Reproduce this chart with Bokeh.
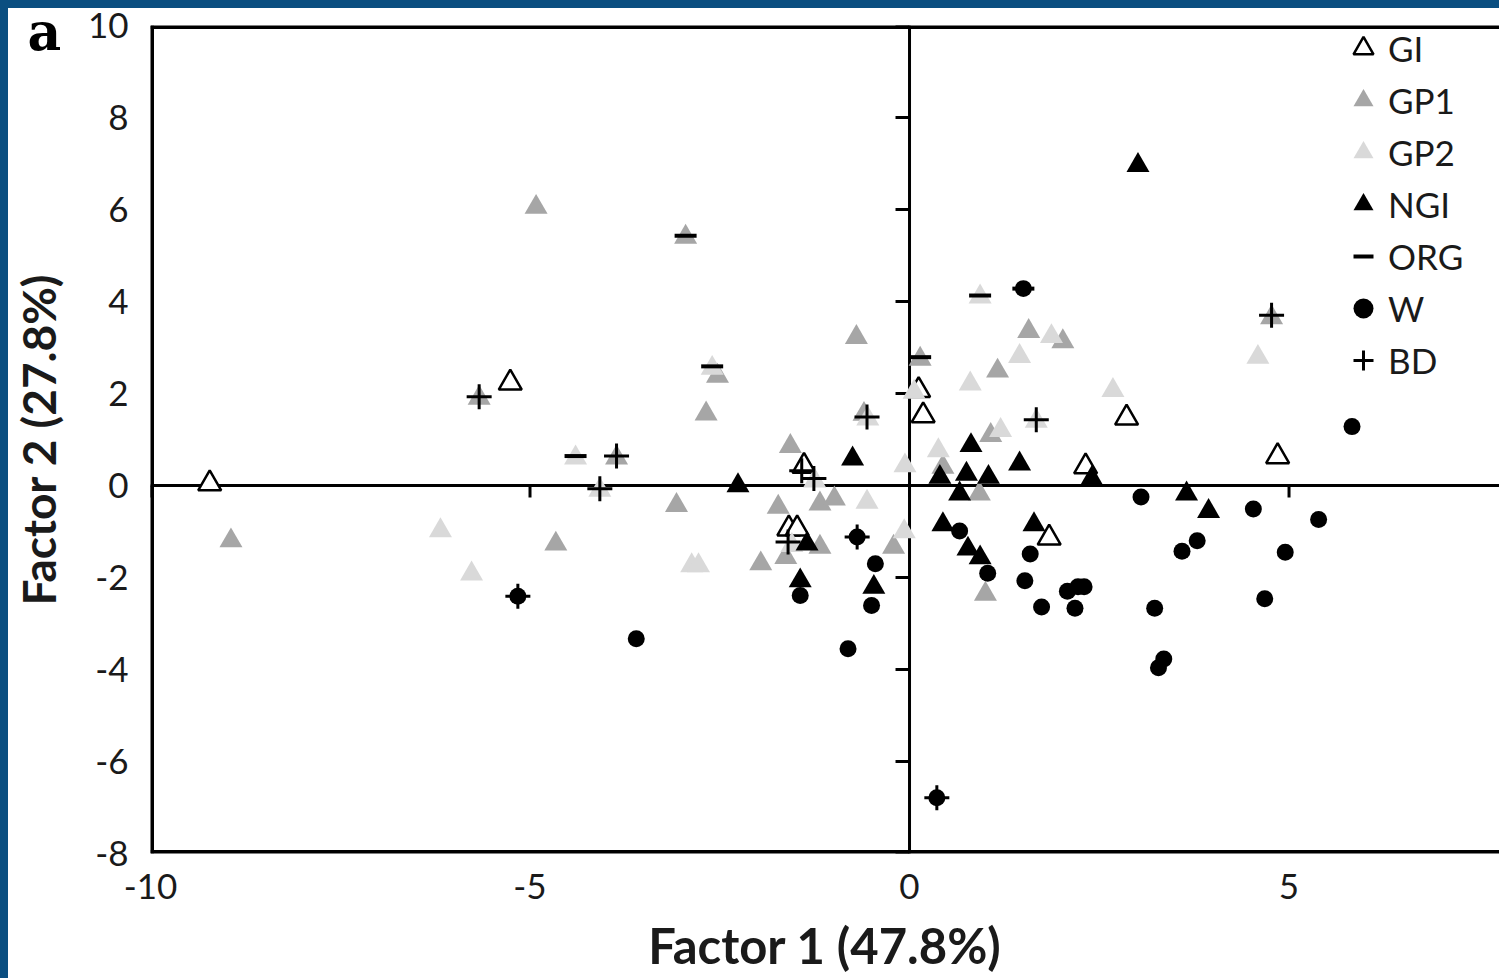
import math
from bokeh.plotting import figure
from bokeh.models import Span, Legend, LegendItem, FixedTicker
from bokeh.embed import file_html
from bokeh.resources import INLINE

# ---------------- data ----------------
gi_x = [-9.22, -5.26, -1.39, -1.59, -1.48, 0.12, 0.18, 1.84, 2.32, 2.86, 4.85]
gi_y = [0.04, 2.23, 0.42, -0.94, -0.94, 2.07, 1.52, -1.14, 0.41, 1.47, 0.63]

gp1_x = [-8.94, -5.67, -4.92, -4.66, -3.86, -3.07, -2.95, -2.68, -2.53, -1.96, -1.73, -1.63, -1.57, -1.18,
         -1.18, -0.99, -0.70, -0.60, -0.21, 0.14, 0.44, 0.92, 1.00, 1.07, 1.16, 1.57, 2.02, 4.77]
gp1_y = [-1.20, 1.90, 6.05, -1.27, 0.60, -0.43, 5.40, 1.56, 2.38, -1.70, -0.47, -1.56, 0.85, -0.40,
         -1.34, -0.29, 3.22, 1.55, -1.34, 2.75, 0.40, -0.18, -2.36, 1.09, 2.49, 3.35, 3.13, 3.65]

gp2_x = [-6.18, -5.77, -4.40, -4.08, -2.87, -2.78, -2.60, -1.55, -1.25, -0.56, -0.55, -0.06, -0.07, 0.06,
         0.38, 0.80, 0.93, 1.20, 1.45, 1.67, 1.87, 2.68, 4.59]
gp2_y = [-0.98, -1.92, 0.60, -0.10, -1.74, -1.74, 2.55, -1.30, 0.10, -0.36, 1.45, 0.43, -1.00, 2.03,
         0.76, 2.21, 4.10, 1.20, 2.81, 1.40, 3.24, 2.07, 2.79]

ngi_x = [-2.26, -1.44, -1.35, -0.75, -0.47, 0.40, 0.44, 0.66, 0.75, 0.77, 0.81, 0.93, 1.04, 1.45, 1.64,
         2.40, 3.01, 3.65, 3.94]
ngi_y = [0.00, -2.07, -1.27, 0.58, -2.21, 0.18, -0.85, -0.18, 0.25, -1.38, 0.87, -1.57, 0.18, 0.47, -0.85,
         0.15, 6.96, -0.18, -0.56]

org_x = [-4.40, -2.95, -2.60, 0.14, 0.93, 1.50]
org_y = [0.64, 5.43, 2.59, 2.79, 4.13, 4.28]

w_x = [-5.16, -3.60, -1.44, -0.81, -0.69, -0.50, -0.45, 0.36, 0.66, 1.03, 1.50, 1.52, 1.59, 1.74, 2.08,
       2.22, 2.30, 2.18, 3.05, 3.23, 3.28, 3.35, 3.59, 3.79, 4.53, 4.68, 4.95, 5.39, 5.83]
w_y = [-2.41, -3.33, -2.39, -3.55, -1.12, -2.61, -1.70, -6.79, -0.99, -1.91, 4.28, -2.07, -1.49, -2.64, -2.30,
       -2.20, -2.20, -2.67, -0.25, -2.67, -3.96, -3.77, -1.43, -1.20, -0.51, -2.46, -1.45, -0.74, 1.28]

bd_x = [-5.67, -5.16, -4.08, -3.86, -1.60, -1.42, -1.26, -0.69, -0.56, 0.36, 1.67, 4.77]
bd_y = [1.93, -2.41, -0.07, 0.64, -1.23, 0.32, 0.15, -1.12, 1.49, -6.79, 1.43, 3.70]

x_ticks = [-10, -5, 0, 5]
y_ticks = [-8, -6, -4, -2, 0, 2, 4, 6, 8, 10]
x_label = "Factor 1 (47.8%)"
y_label = "Factor 2 (27.8%)"
panel_letter = "a"

# ---------------- figure ----------------
FONT = "Lato"
W, H = 1499, 978
p = figure(width=W, height=H, x_range=(-10, 7.773), y_range=(-8, 10),
           output_backend="svg", toolbar_location=None,
           min_border_left=150, min_border_right=0, min_border_top=25, min_border_bottom=125)
p.background_fill_color = "white"
p.border_fill_color = "white"
p.border_fill_alpha = 0.0
p.outline_line_color = None
p.grid.visible = False
p.styles = {"background-color": "white", "box-shadow": "inset 8px 8px 0 0 #0a4e80"}

# panel letter "a" drawn as the (left-aligned, shifted) title so it is not clipped to the frame
p.title.text = panel_letter
p.title.text_font = "DejaVu Serif"
p.title.text_font_style = "bold"
p.title.text_font_size = "52px"
p.title.text_color = "black"
p.title.align = "left"
p.title.vertical_align = "bottom"
p.title.offset = -123
p.title.standoff = -72

for ax in (p.xaxis[0], p.yaxis[0]):
    ax.axis_line_color = None
    ax.major_tick_line_color = None
    ax.minor_tick_line_color = None
    ax.major_tick_out = 0
    ax.major_tick_in = 0
    ax.major_label_text_font = FONT
    ax.major_label_text_font_size = "35px"
    ax.major_label_text_color = "#1a1a1a"
    ax.axis_label_text_font = FONT
    ax.axis_label_text_font_style = "bold"
    ax.axis_label_text_color = "#1a1a1a"

p.xaxis.ticker = FixedTicker(ticks=x_ticks)
p.yaxis.ticker = FixedTicker(ticks=y_ticks)
p.xaxis.major_label_overrides = {t: str(t) for t in x_ticks}
p.yaxis.major_label_overrides = {t: str(t) for t in y_ticks}
p.xaxis.axis_label = x_label
p.yaxis.axis_label = y_label
p.xaxis.axis_label_text_font_size = "49px"
p.yaxis.axis_label_text_font_size = "46px"
p.xaxis.major_label_standoff = 20
p.yaxis.major_label_standoff = 22
p.xaxis.axis_label_standoff = 14
p.yaxis.axis_label_standoff = 19

# crossing axes and frame borders (annotations are clipped to the frame, so half the width shows)
p.add_layout(Span(location=0, dimension="height", line_color="black", line_width=3, level="underlay"))
p.add_layout(Span(location=0, dimension="width", line_color="black", line_width=3, level="underlay"))
p.add_layout(Span(location=p.x_range.start, dimension="height", line_color="black", line_width=7))
p.add_layout(Span(location=p.y_range.end, dimension="width", line_color="black", line_width=7))
p.add_layout(Span(location=p.y_range.start, dimension="width", line_color="black", line_width=7))

# tick marks on the crossing axes
p.ray(x=0, y=y_ticks, length=14, length_units="screen", angle=math.pi,
      line_color="black", line_width=3, level="underlay")
p.ray(x=x_ticks, y=0, length=12, length_units="screen", angle=-math.pi / 2,
      line_color="black", line_width=3, level="underlay")

TRI = 23
r_gi = p.scatter(gi_x, gi_y, marker="triangle", size=TRI, fill_color="white",
                 line_color="black", line_width=2.5)
r_gp1 = p.scatter(gp1_x, gp1_y, marker="triangle", size=TRI, fill_color="#a6a6a6", line_color=None)
r_gp2 = p.scatter(gp2_x, gp2_y, marker="triangle", size=TRI, fill_color="#d9d9d9", line_color=None)
r_ngi = p.scatter(ngi_x, ngi_y, marker="triangle", size=TRI, fill_color="black", line_color=None)
r_org = p.scatter(org_x, org_y, marker="dash", size=22, line_color="black", line_width=4)
r_w = p.scatter(w_x, w_y, marker="circle", size=17, fill_color="black", line_color=None)
r_bd = p.scatter(bd_x, bd_y, marker="cross", size=25, line_color="black", line_width=3)

legend = Legend(items=[
    LegendItem(label="GI", renderers=[r_gi]),
    LegendItem(label="GP1", renderers=[r_gp1]),
    LegendItem(label="GP2", renderers=[r_gp2]),
    LegendItem(label="NGI", renderers=[r_ngi]),
    LegendItem(label="ORG", renderers=[r_org]),
    LegendItem(label="W", renderers=[r_w]),
    LegendItem(label="BD", renderers=[r_bd]),
], location=(1188, 468), orientation="vertical",
    glyph_width=50, glyph_height=50, label_height=50, spacing=2,
    padding=0, margin=0, label_standoff=0,
    label_text_font=FONT, label_text_font_size="35px", label_text_color="#1a1a1a",
    label_text_baseline="middle",
    background_fill_alpha=0, border_line_color=None)
p.add_layout(legend)

html = file_html(p, INLINE, title="PCA factor plot")
html = html.replace("</head>",
                    "<style>html,body{margin:0;padding:0;background:#ffffff;overflow:hidden;}</style></head>", 1)
open("out.html", "w").write(html)
